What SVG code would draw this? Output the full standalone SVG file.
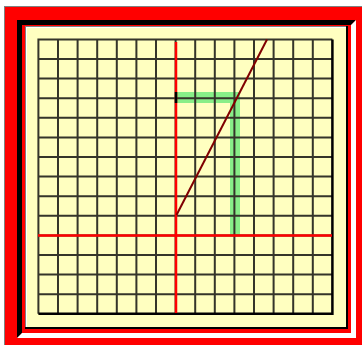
<svg xmlns="http://www.w3.org/2000/svg" width="362" height="345" viewBox="0 0 362 345">
<style>
.grid{fill:none;stroke:#35352a;stroke-width:2}
.axis{stroke:#ff0000;stroke-width:2.5;fill:none}
</style>
<rect x="0" y="0" width="362" height="345" fill="#ffffff"/>
<g id="frame">
<rect x="4.5" y="6.5" width="360" height="342" fill="#ff0000" stroke="#808080" stroke-width="1"/>
<polygon points="17,20 356,20 351,25 22,25 22,333 17,338" fill="#000000"/>
<polygon points="356,20 356,338 17,338 22,333 351,333 351,25" fill="#ffffff"/>
<rect x="22" y="25" width="329" height="308" fill="#ff0000"/>
<rect x="25" y="26" width="323" height="303" fill="#000000"/>
<rect x="25" y="26" width="321" height="301" fill="#808080"/>
<rect x="26" y="27" width="320" height="300" fill="#ffffff"/>
<rect x="27" y="28" width="319" height="299" fill="#ffffc0"/>
</g>
<g id="shape">
<polygon points="176,92 240,92 240,235 230,235 230,103 176,103" fill="#88ee88"/>
</g>
<g id="grid">
<path class="grid" d="M58,39.4V313.8M77.6,39.4V313.8M97.2,39.4V313.8M116.8,39.4V313.8M136.4,39.4V313.8M156,39.4V313.8M175.6,39.4V313.8M195.2,39.4V313.8M214.8,39.4V313.8M234.4,39.4V313.8M254,39.4V313.8M273.6,39.4V313.8M293.2,39.4V313.8M312.8,39.4V313.8M38.4,59H332.4M38.4,78.6H332.4M38.4,98.2H332.4M38.4,117.8H332.4M38.4,137.4H332.4M38.4,157H332.4M38.4,176.6H332.4M38.4,196.2H332.4M38.4,215.8H332.4M38.4,235.4H332.4M38.4,255H332.4M38.4,274.6H332.4M38.4,294.2H332.4"/>
<path d="M38.4,313.8V39.4H332.4" fill="none" stroke="#35352a" stroke-width="2"/>
<path d="M38.4,313.8H332.4V39.4" fill="none" stroke="#000000" stroke-width="2.5"/>
</g>
<g id="axes">
<path class="axis" d="M176,42V313"/>
<path class="axis" d="M38,235.4H332"/>
<path d="M176,92V103" stroke="#000000" stroke-width="2.5"/>
<path d="M176.5,215L267,39.5" stroke="#800000" stroke-width="2"/>
</g>
</svg>
